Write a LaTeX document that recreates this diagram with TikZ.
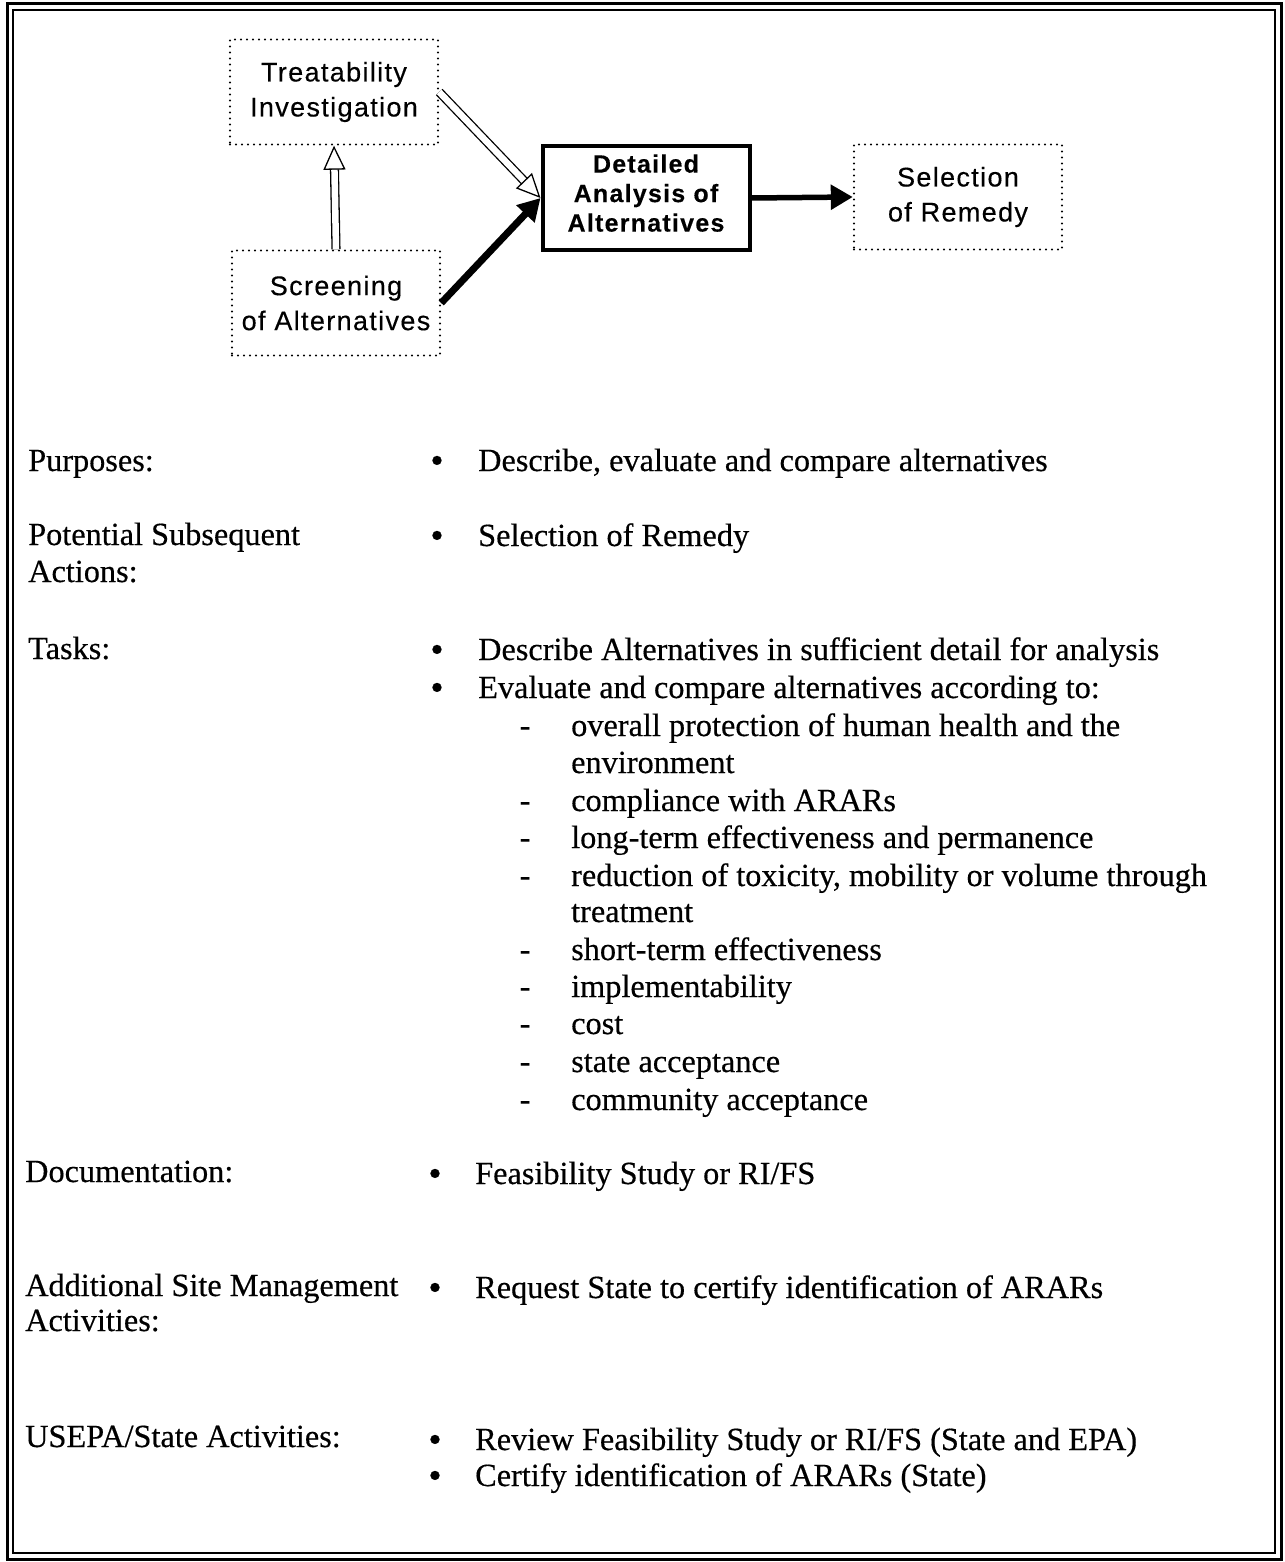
\documentclass[tikz,border=0pt]{standalone}
\usepackage{fontspec}
\setmainfont{Liberation Serif}[FakeBold=0.4]
\newfontfamily\boxfont[LetterSpace=5]{Liberation Sans}[FakeBold=0.3]
\usetikzlibrary{arrows.meta}

\tikzset{
  dotbox/.style={draw, line width=2.4pt, dash pattern=on 0pt off 6pt, line cap=round,
    minimum width=208pt, minimum height=105pt, inner sep=0pt, align=center,
    font=\boxfont\fontsize{27}{35}\selectfont},
  mainbox/.style={draw, line width=4pt, minimum width=207pt, minimum height=104pt,
    inner sep=0pt, align=center, text depth=10pt,
    font=\boxfont\bfseries\fontsize{25}{29.5}\selectfont},
  hollowarrow/.style={line width=1.3pt, double distance=6.5pt,
    -{Triangle[open, length=24pt, width=22pt]}},
  boldarrow/.style={line width=#1, -{Triangle[length=22pt, width=24pt]}},
  txt/.style={anchor=base west, inner sep=0pt, font=\fontsize{32.3}{38}\selectfont},
  bul/.style={anchor=base, inner sep=0pt, font=\fontsize{32.3}{38}\selectfont},
  bigbul/.style={anchor=base, inner sep=0pt, text height=16pt, text depth=0pt,
    font=\fontsize{38}{38}\selectfont, yshift=-2pt},
}

\begin{document}
\begin{tikzpicture}[x=1pt, y=-1pt]
\useasboundingbox (0,0) rectangle (1284,1562);

% double frame
\draw[line width=3pt] (7,4) rectangle (1281,1559);
\draw[line width=2pt] (13,10) rectangle (1275,1553);

% flow boxes
\node[dotbox]  (treat) at (334,92)  {Treatability\\Investigation};
\node[dotbox]  (scr)   at (336,303) {Screening\\of Alternatives};
\node[mainbox] (det)   at (646,198) {Detailed\\Analysis of\\Alternatives};
\node[dotbox]  (sel)   at (958,197) {Selection\\of Remedy};

% connectors
\draw[hollowarrow] (scr.north) -- (treat.south);
\draw[hollowarrow] (treat.east) -- (det.west);
\draw[boldarrow=7pt] (scr.east) -- (det.west);
\draw[boldarrow=5.5pt] (det.east) -- (sel.west);

% Purposes
\node[txt] (l1) at (28,471) {Purposes:};
\node[bigbul] (b1) at (437,471) {•};
\node[txt] (t1) at (478,471) {Describe, evaluate and compare alternatives};

% Potential subsequent actions
\node[txt] (l2a) at (28,545) {Potential Subsequent};
\node[txt] (l2b) at (28,582) {Actions:};
\node[bigbul] (b2) at (437,546) {•};
\node[txt] (t2) at (478,546) {Selection of Remedy};

% Tasks
\node[txt] (l3) at (28,659) {Tasks:};
\node[bigbul] (b3a) at (437,660) {•};
\node[txt] (t3a) at (478,660) {Describe Alternatives in sufficient detail for analysis};
\node[bigbul] (b3b) at (437,698) {•};
\node[txt] (t3b) at (478,698) {Evaluate and compare alternatives according to:};
\foreach \y/\s [count=\i] in {
  736/overall protection of human health and the,
  811/compliance with ARARs,
  848/long-term effectiveness and permanence,
  886/{reduction of toxicity, mobility or volume through},
  960/short-term effectiveness,
  997/implementability,
  1034/cost,
  1072/state acceptance,
  1110/community acceptance}{
  \node[bul] (d\i) at (525,\y) {-};
  \node[txt] (c\i) at (571,\y) {\s};
}
\node[txt] (c1b) at (571,773) {environment};
\node[txt] (c4b) at (571,922) {treatment};

% Documentation
\node[txt] (l4) at (25,1182) {Documentation:};
\node[bigbul] (b4) at (435,1184) {•};
\node[txt] (t4) at (475,1184) {Feasibility Study or RI/FS};

% Additional site management
\node[txt] (l5a) at (25,1296) {Additional Site Management};
\node[txt] (l5b) at (25,1331) {Activities:};
\node[bigbul] (b5) at (435,1298) {•};
\node[txt] (t5) at (475,1298) {Request State to certify identification of ARARs};

% USEPA/State activities
\node[txt] (l6) at (25,1447) {USEPA/State Activities:};
\node[bigbul] (b6a) at (435,1450) {•};
\node[txt] (t6a) at (475,1450) {Review Feasibility Study or RI/FS (State and EPA)};
\node[bigbul] (b6b) at (435,1486) {•};
\node[txt] (t6b) at (475,1486) {Certify identification of ARARs (State)};
\end{tikzpicture}
\end{document}
